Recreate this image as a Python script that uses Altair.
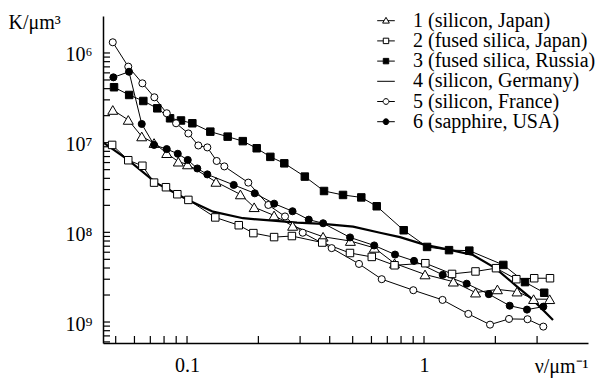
import altair as alt
import pandas as pd

FONT = "Liberation Serif"

names = [
    "1 (silicon, Japan)",
    "2 (fused silica, Japan)",
    "3 (fused silica, Russia)",
    "4 (silicon, Germany)",
    "5 (silicon, France)",
    "6 (sapphire, USA)",
]

nu1 = [0.0486, 0.0565, 0.0644, 0.0726, 0.0821, 0.0919, 0.1005, 0.1325, 0.168, 0.192, 0.233,
       0.279, 0.375, 0.489, 0.617, 0.751, 1.01, 1.33, 1.65, 2.04, 2.47, 2.90, 3.39]
K1 = [4.32e6, 5.58e6, 8.53e6, 1.01e7, 1.31e7, 1.63e7, 1.75e7, 2.74e7, 3.78e7, 5.25e7, 6.48e7,
      8.48e7, 1.12e8, 1.25e8, 1.49e8, 2.22e8, 2.95e8, 3.55e8, 4.70e8, 4.33e8, 4.58e8, 5.56e8, 5.57e8]

nu2 = [0.0483, 0.0565, 0.0648, 0.0726, 0.0815, 0.091, 0.1013, 0.1316, 0.1653, 0.1905, 0.233,
       0.277, 0.372, 0.487, 0.602, 0.751, 1.013, 1.313, 1.649, 2.013, 2.452, 2.917, 3.401]
K2 = [1.06e7, 1.57e7, 1.81e7, 2.79e7, 3.14e7, 3.76e7, 4.35e7, 6.82e7, 8.33e7, 1.02e8, 1.13e8,
      1.10e8, 1.30e8, 1.70e8, 1.88e8, 2.33e8, 2.21e8, 2.91e8, 2.73e8, 2.51e8, 3.33e8, 3.25e8, 3.25e8]

nu3 = [0.0492, 0.057, 0.0654, 0.0749, 0.0848, 0.0943, 0.1053, 0.1254, 0.1484, 0.1719, 0.1968,
       0.2247, 0.2573, 0.3141, 0.3785, 0.4552, 0.5437, 0.6316, 0.821, 1.03, 1.275, 1.553, 2.161,
       2.668, 3.215]
K3 = [2.41e6, 2.94e6, 3.43e6, 4.14e6, 5.35e6, 5.66e6, 6.08e6, 7.54e6, 8.57e6, 9.62e6, 1.155e7,
      1.44e7, 1.70e7, 2.39e7, 3.46e7, 3.83e7, 4.08e7, 5.12e7, 9.48e7, 1.455e8, 1.58e8, 1.60e8,
      2.31e8, 3.59e8, 4.72e8]

nu4 = [0.0447, 0.0564, 0.074, 0.101, 0.1287, 0.1723, 0.2306, 0.2911, 0.375, 0.502, 0.652,
       0.792, 1.01, 1.287, 1.61, 1.993, 2.469, 2.884, 3.502]
K4 = [1.01e7, 1.56e7, 2.81e7, 4.35e7, 5.88e7, 6.96e7, 7.41e7, 7.80e7, 8.06e7, 8.64e7, 1.01e8,
      1.13e8, 1.38e8, 1.57e8, 1.79e8, 2.49e8, 4.03e8, 5.67e8, 9.48e8]

nu5 = [0.0486, 0.0565, 0.0648, 0.0728, 0.0821, 0.0899, 0.1013, 0.1116, 0.1218, 0.1334, 0.1437,
       0.1814, 0.2203, 0.2591, 0.3077, 0.4077, 0.5317, 0.663, 0.9013, 1.197, 1.538, 1.899, 2.284,
       2.733, 3.187]
K5 = [7.60e5, 1.42e6, 2.18e6, 3.12e6, 4.70e6, 6.08e6, 7.90e6, 1.075e7, 1.13e7, 1.60e7, 1.84e7,
      2.79e7, 4.95e7, 6.65e7, 1.01e8, 1.50e8, 2.25e8, 3.33e8, 4.42e8, 5.67e8, 8.12e8, 1.07e9,
      9.24e8, 9.31e8, 1.125e9]

nu6 = [0.0489, 0.0569, 0.0644, 0.0726, 0.0821, 0.0914, 0.1007, 0.1105, 0.1218, 0.1574, 0.1931,
       0.2332, 0.2787, 0.3263, 0.3752, 0.4874, 0.6164, 0.7545, 0.9074, 1.199, 1.514, 1.877, 2.299,
       2.72, 3.187]
K6 = [1.87e6, 1.62e6, 6.19e6, 1.06e7, 1.18e7, 1.33e7, 1.56e7, 1.94e7, 2.26e7, 2.96e7, 3.67e7,
      4.79e7, 5.82e7, 7.22e7, 7.92e7, 1.14e8, 1.40e8, 1.77e8, 2.08e8, 2.98e8, 3.74e8, 4.89e8,
      6.58e8, 7.27e8, 6.74e8]

x_tick_values = [0.05, 0.06, 0.07, 0.08, 0.09, 0.1, 0.2, 0.3, 0.4, 0.5, 0.6, 0.7, 0.8, 0.9, 1, 2, 3]
x_label_values = [0.1, 1]
y_major = [1e6, 1e7, 1e8, 1e9]
y_labels = ["10⁶", "10⁷", "10⁸", "10⁹"]

X_DOMAIN = [0.0442, 4.92]
Y_DOMAIN = [3.87e5, 1.714e9]

series_nu = [nu1, nu2, nu3, nu4, nu5, nu6]
series_K = [K1, K2, K3, K4, K5, K6]
rows = []
for name, nus, ks in zip(names, series_nu, series_K):
    for i, (n, k) in enumerate(zip(nus, ks)):
        rows.append({"series": name, "nu": n, "K": k, "order": i})
data = pd.DataFrame(rows)

y_minor = [10 ** (n + 1) / k for n in (6, 7, 8, 9) for k in range(2, 10)]
y_ticks = [v for v in y_major + y_minor if Y_DOMAIN[0] <= v <= Y_DOMAIN[1]]
ytick_df = pd.DataFrame({"K": y_ticks})
xtick_df = pd.DataFrame({"nu": x_tick_values})

W, H = 485, 327
xs = alt.Scale(type="log", domain=X_DOMAIN, nice=False)
ys = alt.Scale(type="log", domain=Y_DOMAIN, reverse=True, nice=False)

label_expr = " : ".join(
    f"datum.value == {int(v)} ? '{t}'" for v, t in zip(y_major, y_labels)
) + " : ''"

x_axis = alt.Axis(
    values=x_label_values, format="~g", labelPadding=12,
    title="ν/μm⁻¹", titleAnchor="end", titleAlign="right", titleBaseline="middle",
    titleX=W, titleY=23,
)
y_axis = alt.Axis(
    values=y_major, labelExpr=label_expr, labelPadding=11, labelOffset=2,
    title="K/μm³", titleAngle=0, titleAlign="left", titleBaseline="middle",
    titleX=-95, titleY=6,
)

base = alt.Chart(data)

thin = base.transform_filter(alt.datum.series != names[3]).mark_line(
    color="black", strokeWidth=1
).encode(
    x=alt.X("nu:Q", scale=xs, axis=x_axis),
    y=alt.Y("K:Q", scale=ys, axis=y_axis),
    detail="series:N",
    order="order:Q",
)
thick = base.transform_filter(alt.datum.series == names[3]).mark_line(
    color="black", strokeWidth=2.2
).encode(
    x=alt.X("nu:Q", scale=xs),
    y=alt.Y("K:Q", scale=ys),
    order="order:Q",
)

marker_shapes = ["triangle-up", "square", "square", None, "circle", "circle"]
marker_sizes = [100, 56, 56, 0, 50, 50]
marker_fills = ["white", "white", "black", "white", "white", "black"]

point_layers = []
for name, shp, sz, fl in zip(names, marker_shapes, marker_sizes, marker_fills):
    if shp is None:
        continue
    point_layers.append(
        base.transform_filter(alt.datum.series == name)
        .mark_point(shape=shp, size=sz, filled=True, fill=fl, stroke="black",
                    strokeWidth=1, opacity=1)
        .encode(
            x=alt.X("nu:Q", scale=xs),
            y=alt.Y("K:Q", scale=ys),
        )
    )

xticks = alt.Chart(xtick_df).mark_rule(color="black", strokeWidth=1.2).encode(
    x=alt.X("nu:Q", scale=xs),
    y=alt.value(H),
    y2=alt.value(H - 7),
)
yticks = alt.Chart(ytick_df).mark_rule(color="black", strokeWidth=1.2).encode(
    y=alt.Y("K:Q", scale=ys),
    x=alt.value(0),
    x2=alt.value(7),
)

legend_paths = [
    "M-1.1,0H-0.25M0.25,0H1.1M0,-0.42L0.42,0.3L-0.42,0.3Z",
    "M-1.1,0H-0.34M0.34,0H1.1M-0.34,-0.34H0.34V0.34H-0.34Z",
    "M-1.1,0H-0.34M0.34,0H1.1M-0.34,-0.34H0.34V0.34H-0.34Z",
    "M-1.1,0H1.1",
    "M-1.1,0H-0.36M0.36,0H1.1M0.36,0A0.36,0.36 0 1 1 -0.36,0A0.36,0.36 0 1 1 0.36,0Z",
    "M-1.1,0H-0.36M0.36,0H1.1M0.36,0A0.36,0.36 0 1 1 -0.36,0A0.36,0.36 0 1 1 0.36,0Z",
]

leg = alt.Legend(
    title=None, orient="none", legendX=273, legendY=-5.3, padding=0, rowPadding=0.2,
    symbolSize=256, symbolStrokeColor="black", symbolStrokeWidth=1, symbolOffset=0,
    labelFont=FONT, labelFontSize=20, labelColor="black", labelOffset=17, labelLimit=400,
)

legend_layer = base.transform_filter("false").mark_point(
    filled=True, stroke="black", strokeWidth=1, size=256, opacity=1
).encode(
    x=alt.X("nu:Q", scale=xs),
    y=alt.Y("K:Q", scale=ys),
    shape=alt.Shape("series:N", scale=alt.Scale(domain=names, range=legend_paths), legend=leg),
    fill=alt.Fill("series:N", scale=alt.Scale(domain=names, range=marker_fills), legend=leg),
    stroke=alt.Stroke("series:N", scale=alt.Scale(domain=names, range=["black"] * 6), legend=leg),
)

chart = alt.layer(thin, thick, xticks, yticks, *point_layers, legend_layer).properties(
    width=W,
    height=H,
    autosize=alt.AutoSizeParams(type="none"),
    padding={"left": 103, "top": 16, "right": 19, "bottom": 39},
    background="white",
).configure(
    font=FONT
).configure_axis(
    labelFont=FONT, titleFont=FONT, labelFontSize=20, titleFontSize=20,
    labelColor="black", titleColor="black", titleFontWeight="normal",
    domainColor="black", domainWidth=1.5, grid=False, ticks=False, labelFlush=False,
).configure_legend(
    labelFont=FONT, labelFontSize=20, labelColor="black",
).configure_view(strokeWidth=0)

chart.save("out.html", embed_options={"renderer": "svg", "actions": False})
